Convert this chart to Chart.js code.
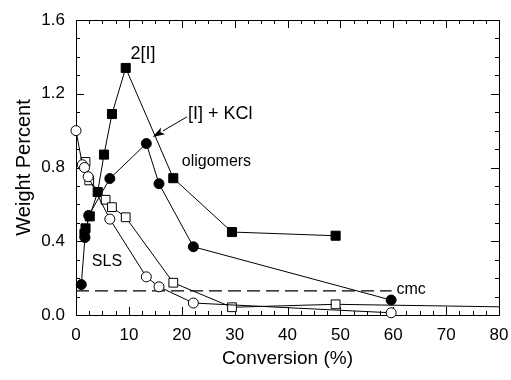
<!DOCTYPE html>
<html>
<head>
<meta charset="utf-8">
<script src="https://cdn.jsdelivr.net/npm/chart.js@4.4.1/dist/chart.umd.min.js"></script>
<style>
  html, body { margin: 0; padding: 0; background: #fff; }
  #wrap { width: 511px; height: 380px; position: relative; }
</style>
</head>
<body>
<div id="wrap"><canvas id="c" width="511" height="380"></canvas></div>
<script>
// ---- Data ----
const xTickLabels = [0, 10, 20, 30, 40, 50, 60, 70, 80];
const yTickLabels = [0.0, 0.4, 0.8, 1.2, 1.6];

// 2[I] (filled squares)
const dimerX = [1.6, 1.8, 2.6, 4.1, 5.3, 6.8, 9.4, 18.4, 29.5, 49.1];
const dimerY = [0.44, 0.47, 0.535, 0.667, 0.87, 1.09, 1.34, 0.742, 0.45, 0.43];

// [I] + KCl (filled circles)
const kclX = [1.0, 1.7, 2.4, 6.4, 13.3, 15.7, 22.2, 59.6];
const kclY = [0.165, 0.42, 0.54, 0.74, 0.93, 0.712, 0.37, 0.081];

// SLS (open circles)
const slsX = [0, 1.2, 1.6, 2.3, 6.4, 13.3, 15.7, 22.2, 59.6];
const slsY = [1.0, 0.815, 0.80, 0.75, 0.52, 0.207, 0.153, 0.065, 0.012];

// open squares
const openSqX = [1.8, 2.5, 5.6, 6.8, 9.4, 18.4, 29.5, 49.1, 90];
const openSqY = [0.83, 0.73, 0.625, 0.585, 0.53, 0.175, 0.042, 0.058, 0.04];

// cmc level
const cmcX = [0, 59.7];
const cmcY = [0.131, 0.131];

const toPts = (xs, ys) => xs.map((x, i) => ({x: x, y: ys[i]}));

// Annotation texts (data coordinates)
const labelTexts = [
  {text: '2[I]', x: 10.3, y: 1.416, size: 18},
  {text: '[I] + KCl', x: 21.2, y: 1.092, size: 18},
  {text: 'oligomers', x: 20.0, y: 0.834, size: 16},
  {text: 'SLS', x: 3.0, y: 0.288, size: 16},
  {text: 'cmc', x: 60.6, y: 0.14, size: 16}
];
const arrowFrom = {x: 21.0, y: 1.075};
const arrowTo = {x: 14.5, y: 0.966};

const FONT = "'Liberation Sans', Arial, sans-serif";

const framePlugin = {
  id: 'frame',
  beforeDatasetsDraw(chart) {
    const {ctx, chartArea: a, scales: {x, y}} = chart;
    ctx.save();
    ctx.strokeStyle = '#000';
    ctx.lineWidth = 1;
    ctx.strokeRect(Math.round(a.left) + 0.5, Math.round(a.top) + 0.5,
                   Math.round(a.right - a.left), Math.round(a.bottom - a.top));
    ctx.beginPath();
    for (let v = 0; v <= 80.001; v += 2.5) {
      const px = Math.round(x.getPixelForValue(v)) + 0.5;
      const major = Math.abs(v / 10 - Math.round(v / 10)) < 1e-6;
      const len = major ? 8 : 4;
      ctx.moveTo(px, a.bottom); ctx.lineTo(px, a.bottom - len);
      ctx.moveTo(px, a.top); ctx.lineTo(px, a.top + len);
    }
    for (let i = 0; i <= 16; i++) {
      const v = i / 10;
      const py = Math.round(y.getPixelForValue(v)) + 0.5;
      const major = i % 4 === 0;
      const len = major ? 8 : 4;
      ctx.moveTo(a.left, py); ctx.lineTo(a.left + len, py);
      ctx.moveTo(a.right, py); ctx.lineTo(a.right - len, py);
    }
    ctx.stroke();
    ctx.restore();
  },
  afterDraw(chart) {
    const {ctx, scales: {x, y}} = chart;
    ctx.save();
    ctx.fillStyle = '#000';
    ctx.strokeStyle = '#000';
    ctx.lineWidth = 1;
    ctx.textBaseline = 'middle';
    ctx.textAlign = 'left';
    labelTexts.forEach(t => {
      ctx.font = t.size + 'px ' + FONT;
      ctx.fillText(t.text, x.getPixelForValue(t.x), y.getPixelForValue(t.y));
    });
    const x1 = x.getPixelForValue(arrowFrom.x), y1 = y.getPixelForValue(arrowFrom.y);
    const x2 = x.getPixelForValue(arrowTo.x), y2 = y.getPixelForValue(arrowTo.y);
    const ang = Math.atan2(y2 - y1, x2 - x1);
    const hl = 12, hw = 4;
    const bx = x2 - hl * Math.cos(ang), by = y2 - hl * Math.sin(ang);
    ctx.beginPath();
    ctx.moveTo(x1, y1); ctx.lineTo(bx, by);
    ctx.stroke();
    ctx.beginPath();
    ctx.moveTo(x2, y2);
    ctx.lineTo(bx + hw * Math.sin(ang), by - hw * Math.cos(ang));
    ctx.lineTo(x2 - (hl - 3) * Math.cos(ang), y2 - (hl - 3) * Math.sin(ang));
    ctx.lineTo(bx - hw * Math.sin(ang), by + hw * Math.cos(ang));
    ctx.closePath();
    ctx.fill();
    ctx.restore();
  }
};

const base = {showLine: true, borderColor: '#000', borderWidth: 1, pointBorderColor: '#000', pointBorderWidth: 1, tension: 0};

new Chart(document.getElementById('c'), {
  type: 'scatter',
  data: {
    datasets: [
      Object.assign({}, base, {label: 'SLS', data: toPts(slsX, slsY), pointStyle: 'circle', pointRadius: 5, pointBackgroundColor: '#fff', clip: false}),
      Object.assign({}, base, {label: 'open squares', data: toPts(openSqX, openSqY), pointStyle: 'rect', pointRadius: 6.2, pointBackgroundColor: '#fff'}),
      Object.assign({}, base, {label: '2[I]', data: toPts(dimerX, dimerY), pointStyle: 'rect', pointRadius: 6.4, pointBackgroundColor: '#000', clip: false}),
      Object.assign({}, base, {label: '[I] + KCl', data: toPts(kclX, kclY), pointStyle: 'circle', pointRadius: 5, pointBackgroundColor: '#000', clip: false}),
      {label: 'cmc', data: toPts(cmcX, cmcY), showLine: true, borderColor: '#000', borderWidth: 1.2, borderDash: [13, 6], pointRadius: 0}
    ]
  },
  options: {
    responsive: false,
    animation: false,
    layout: {padding: {top: 20, right: 12, left: 0, bottom: 0}},
    plugins: {legend: {display: false}, tooltip: {enabled: false}},
    scales: {
      x: {
        type: 'linear', min: 0, max: 80,
        afterBuildTicks: s => { s.ticks = xTickLabels.map(v => ({value: v})); },
        afterFit: s => { s.height = 65; s.paddingLeft = 0; s.paddingRight = 0; },
        grid: {display: false, drawTicks: false},
        border: {display: false},
        ticks: {color: '#000', font: {family: FONT, size: 17}, padding: 10, maxRotation: 0},
        title: {display: true, text: 'Conversion (%)', color: '#000', font: {family: FONT, size: 19}, padding: {top: 0, bottom: 10}}
      },
      y: {
        type: 'linear', min: 0, max: 1.6,
        afterBuildTicks: s => { s.ticks = yTickLabels.map(v => ({value: v})); },
        afterFit: s => { s.width = 76; s.paddingTop = 0; s.paddingBottom = 0; },
        grid: {display: false, drawTicks: false},
        border: {display: false},
        ticks: {color: '#000', font: {family: FONT, size: 17}, padding: 11, callback: v => Number(v).toFixed(1)},
        title: {display: true, text: 'Weight Percent', color: '#000', font: {family: FONT, size: 20}, padding: {top: 12, bottom: 0}}
      }
    }
  },
  plugins: [framePlugin]
});
</script>
</body>
</html>
